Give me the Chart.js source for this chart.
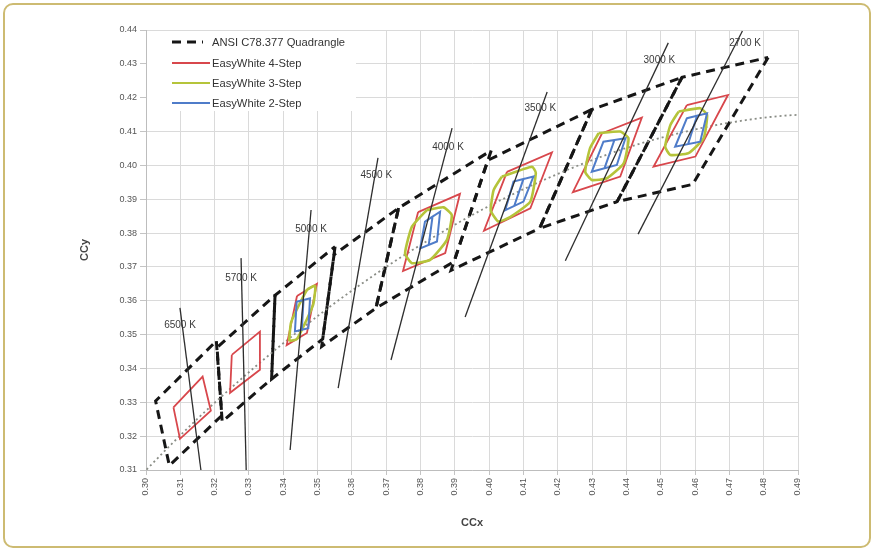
<!DOCTYPE html>
<html><head><meta charset="utf-8">
<script src="https://cdn.jsdelivr.net/npm/chart.js@4.4.1/dist/chart.umd.min.js"></script>
<style>
html,body{margin:0;padding:0;background:#fff;}
#wrap{position:relative;width:874px;height:551px;}
#frame{position:absolute;left:3px;top:3px;width:864px;height:541px;border:2px solid #cdbb72;border-radius:10px;pointer-events:none;}
</style></head><body>
<div id="wrap"><canvas id="c" width="874" height="551"></canvas><div id="frame"></div></div>
<script>
// ---- axis ranges ----
const xRange = [0.30, 0.49];
const yRange = [0.31, 0.44];

// ---- ANSI C78.377 quadrangles (x, y corners) ----
const ansi2700 = [[0.4813,0.4319],[0.4593,0.3944],[0.4373,0.3893],[0.4562,0.4260]];
const ansi3000 = [[0.4562,0.4260],[0.4373,0.3893],[0.4147,0.3814],[0.4299,0.4165]];
const ansi3500 = [[0.4299,0.4165],[0.4147,0.3814],[0.3889,0.3690],[0.3996,0.4015]];
const ansi4000 = [[0.4006,0.4044],[0.3898,0.3716],[0.3670,0.3578],[0.3736,0.3874]];
const ansi4500 = [[0.3736,0.3874],[0.3670,0.3578],[0.3512,0.3465],[0.3548,0.3736]];
const ansi5000 = [[0.3551,0.3760],[0.3515,0.3487],[0.3366,0.3369],[0.3376,0.3616]];
const ansi5700 = [[0.3376,0.3616],[0.3366,0.3369],[0.3222,0.3243],[0.3207,0.3462]];
const ansi6500 = [[0.3205,0.3481],[0.3221,0.3261],[0.3068,0.3113],[0.3028,0.3304]];

// ---- EasyWhite 4-Step (red) ----
const red6500 = [[0.3080,0.3285],[0.3165,0.3376],[0.3189,0.3275],[0.3099,0.3192]];
const red5700 = [[0.3250,0.3440],[0.3332,0.3509],[0.3332,0.3396],[0.3245,0.3328]];
const red5000 = [[0.3440,0.3614],[0.3498,0.3650],[0.3469,0.3505],[0.3410,0.3469]];
const red4000 = [[0.3793,0.3862],[0.3915,0.3916],[0.3872,0.3741],[0.3749,0.3688]];
const red3500 = [[0.4052,0.3981],[0.4183,0.4038],[0.4120,0.3873],[0.3985,0.3807]];
const red3000 = [[0.4329,0.4095],[0.4445,0.4141],[0.4382,0.3967],[0.4244,0.3921]];
const red2700 = [[0.4576,0.4178],[0.4696,0.4208],[0.4601,0.4026],[0.4479,0.3996]];

// ---- EasyWhite 3-Step (yellow-green) ----
const yel5000 = [[0.3417,0.3481],[0.3423,0.3537],[0.3469,0.3632],[0.3493,0.3644],[0.3487,0.3588],[0.3440,0.3487]];
const yel4000 = [[0.3818,0.3868],[0.3867,0.3876],[0.3891,0.3853],[0.3877,0.3780],[0.3828,0.3721],[0.3775,0.3711],[0.3755,0.3740],[0.3775,0.3819]];
const yel3500 = [[0.4037,0.3967],[0.4125,0.3996],[0.4136,0.3978],[0.4120,0.3893],[0.4061,0.3847],[0.4027,0.3834],[0.4005,0.3866],[0.4013,0.3927]];
const yel3000 = [[0.4319,0.4095],[0.4382,0.4100],[0.4406,0.4080],[0.4392,0.4006],[0.4343,0.3962],[0.4299,0.3957],[0.4280,0.3981],[0.4294,0.4051]];
const yel2700 = [[0.4552,0.4159],[0.4615,0.4169],[0.4635,0.4149],[0.4625,0.4080],[0.4581,0.4036],[0.4528,0.4031],[0.4513,0.4055],[0.4528,0.4119]];

// ---- EasyWhite 2-Step (blue): corners, then middle divider ----
const blu5000 = [[0.3439,0.3597],[0.3478,0.3607],[0.3473,0.3519],[0.3434,0.3509]];
const bluMid5000 = [[0.3459,0.3602],[0.3454,0.3514]];
const blu4000 = [[0.3813,0.3834],[0.3857,0.3863],[0.3848,0.3775],[0.3799,0.3755]];
const bluMid4000 = [[0.3835,0.3849],[0.3824,0.3765]];
const blu3500 = [[0.4071,0.3952],[0.4129,0.3967],[0.4100,0.3893],[0.4047,0.3868]];
const bluMid3500 = [[0.4100,0.3960],[0.4073,0.3880]];
const blu3000 = [[0.4333,0.4070],[0.4397,0.4080],[0.4372,0.4001],[0.4299,0.3981]];
const bluMid3000 = [[0.4365,0.4075],[0.4336,0.3991]];
const blu2700 = [[0.4576,0.4139],[0.4635,0.4154],[0.4615,0.4070],[0.4542,0.4055]];
const bluMid2700 = [[0.4606,0.4147],[0.4579,0.4061]];

// ---- isotherm lines and labels ----
const cctLabels = ['6500 K','5700 K','5000 K','4500 K','4000 K','3500 K','3000 K','2700 K'];
const isoTop    = [[0.3099,0.3579],[0.3277,0.3726],[0.3481,0.3868],[0.3676,0.4022],[0.3892,0.4110],[0.4169,0.4217],[0.4522,0.4362],[0.4738,0.4397]];
const isoBottom = [[0.3160,0.3100],[0.3292,0.3100],[0.3420,0.3159],[0.3560,0.3342],[0.3714,0.3425],[0.3930,0.3552],[0.4222,0.3718],[0.4434,0.3797]];
const labelPos  = [[0.3099,0.3529],[0.3277,0.3667],[0.3481,0.3812],[0.3671,0.3972],[0.3880,0.4055],[0.4149,0.4170],[0.4496,0.4311],[0.4746,0.4362]];

// ---- Planckian locus ----
const planckX = [0.2951,0.3064,0.3135,0.3221,0.3324,0.3451,0.3607,0.3805,0.4053,0.4369,0.4599,0.4770,0.4862,0.4967];
const planckY = [0.3048,0.3166,0.3237,0.3318,0.3410,0.3516,0.3635,0.3768,0.3907,0.4041,0.4106,0.4137,0.4147,0.4152];

// ---- legend ----
const legendLabels = ['ANSI C78.377 Quadrangle','EasyWhite 4-Step','EasyWhite 3-Step','EasyWhite 2-Step'];

const C_RED = '#d8474c', C_YEL = '#b5c43a', C_BLU = '#4f7cc9', C_BLK = '#161616';
const FONT = '"Liberation Sans", Arial, sans-serif';

const pts = a => a.map(p => ({x:p[0], y:p[1]}));
const closed = a => { const r = pts(a); r.push({...r[0]}); return r; };
const base = {showLine:true, pointRadius:0, pointHoverRadius:0, fill:false, tension:0};

const datasets = [];
[ansi6500,ansi5700,ansi5000,ansi4500,ansi4000,ansi3500,ansi3000,ansi2700].forEach(q =>
  datasets.push({...base, data: closed(q), borderColor:C_BLK, borderWidth:3, borderDash:[9,6], order:6}));
datasets.push({...base, data: planckX.map((v,i)=>({x:v, y:planckY[i]})), borderColor:'#8a8d86', borderWidth:1.8, borderDash:[2,3], cubicInterpolationMode:'monotone', order:5});
[red6500,red5700,red5000,red4000,red3500,red3000,red2700].forEach(q =>
  datasets.push({...base, data: closed(q), borderColor:C_RED, borderWidth:1.8, order:4}));
[yel5000,yel4000,yel3500,yel3000,yel2700].forEach(q =>
  datasets.push({...base, data: closed(q), borderColor:C_YEL, borderWidth:2.6, tension:0.15, order:3}));
[[blu5000,bluMid5000],[blu4000,bluMid4000],[blu3500,bluMid3500],[blu3000,bluMid3000],[blu2700,bluMid2700]].forEach(([q,m]) =>
  datasets.push({...base, data: closed(q).concat(pts(m)), borderColor:C_BLU, borderWidth:2, order:2}));
isoTop.forEach((t,i) =>
  datasets.push({...base, data: pts([t, isoBottom[i]]), borderColor:'#2e2e2e', borderWidth:1.3, order:1}));

const overlay = {
  id:'overlay',
  afterDatasetsDraw(chart){
    const {ctx, scales:{x,y}, chartArea:a} = chart;
    ctx.save();
    ctx.font = '10px ' + FONT;
    ctx.fillStyle = '#3a3a3a';
    ctx.textAlign = 'center'; ctx.textBaseline = 'middle';
    cctLabels.forEach((t,i) => ctx.fillText(t, x.getPixelForValue(labelPos[i][0]), y.getPixelForValue(labelPos[i][1])));
    // legend box
    ctx.fillStyle = '#fff';
    ctx.fillRect(a.left + 1, a.top + 1, 209, 80);
    const rows = [42, 63, 83, 103];
    ctx.textAlign = 'left';
    ctx.font = '11.2px ' + FONT;
    rows.forEach((ry,i) => {
      ctx.beginPath();
      if (i === 0) {
        ctx.strokeStyle = C_BLK; ctx.lineWidth = 3; ctx.setLineDash([9,6]);
        ctx.moveTo(172, ry); ctx.lineTo(203, ry);
      } else {
        ctx.strokeStyle = [C_RED, C_YEL, C_BLU][i-1]; ctx.lineWidth = 2; ctx.setLineDash([]);
        ctx.moveTo(172, ry); ctx.lineTo(210, ry);
      }
      ctx.stroke();
      ctx.setLineDash([]);
      ctx.fillStyle = '#333';
      ctx.fillText(legendLabels[i], 212, ry + 0.5);
    });
    ctx.restore();
  }
};

new Chart(document.getElementById('c'), {
  type:'scatter',
  data:{datasets},
  options:{
    responsive:false, devicePixelRatio:1, animation:false,
    layout:{padding:{left:0, right:76, top:30, bottom:0}},
    plugins:{legend:{display:false}, tooltip:{enabled:false}},
    scales:{
      x:{type:'linear', min:xRange[0], max:xRange[1],
        afterFit: s => { s.height = 81; },
        ticks:{stepSize:0.01, autoSkip:false, minRotation:90, maxRotation:90, padding:3,
          color:'#555', font:{family:FONT, size:9}, callback: v => Number(v).toFixed(2)},
        grid:{color:'#dadada', tickLength:5, tickColor:'#c4c4c4'},
        border:{color:'#bdbdbd'},
        title:{display:true, text:'CCx', color:'#444', font:{family:FONT, size:11, weight:'bold'}, padding:{top:0, bottom:21}}
      },
      y:{type:'linear', min:yRange[0], max:yRange[1],
        afterFit: s => { s.width = 146; },
        ticks:{stepSize:0.01, padding:3, color:'#555', font:{family:FONT, size:9}, callback: v => Number(v).toFixed(2)},
        grid:{color:'#dadada', tickLength:6, tickColor:'#c4c4c4'},
        border:{color:'#bdbdbd'},
        title:{display:true, text:'CCy', color:'#444', font:{family:FONT, size:11, weight:'bold'}, padding:{top:78, bottom:0}}
      }
    }
  },
  plugins:[overlay]
});
</script>
</body></html>
